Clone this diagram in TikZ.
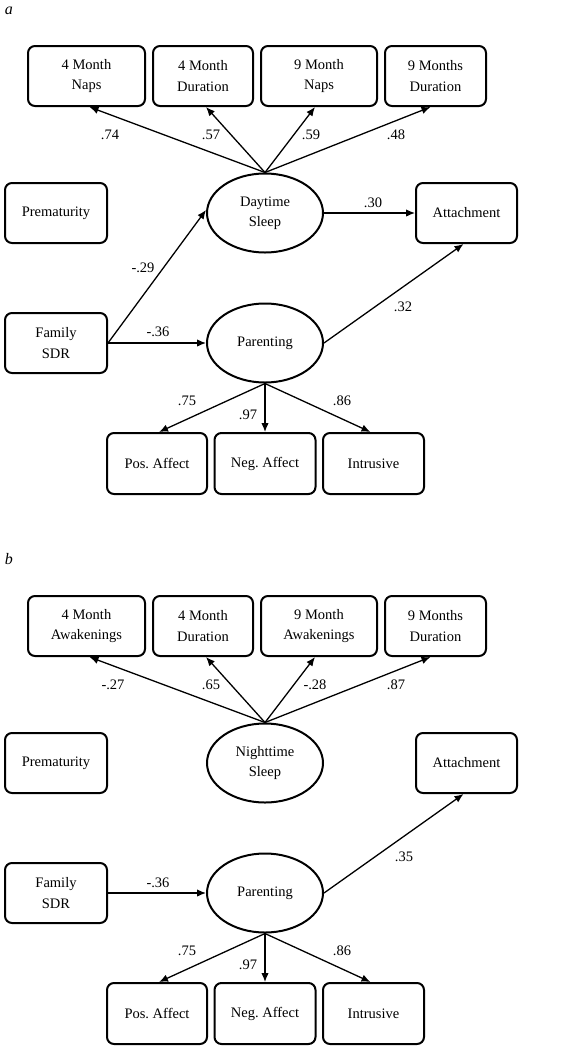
\documentclass[tikz,border=0pt]{standalone}
\usepackage{fontspec}
\setmainfont{Liberation Serif}
\usetikzlibrary{arrows.meta,shapes.geometric}
\frenchspacing
\begin{document}
\begin{tikzpicture}[x=1pt,y=-1pt,
  every node/.style={font=\fontsize{14.5}{20.5}\selectfont},
  obs/.style={draw,rounded corners=7pt,line width=2pt,minimum height=60pt,inner sep=0pt,align=center},
  lat/.style={draw,ellipse,line width=2pt,minimum width=116pt,minimum height=79pt,inner sep=0pt,align=center},
  path/.style={line width=1.3pt,-{Latex[length=9pt,width=7.5pt]}},
  lbl/.style={inner sep=0pt},
  panel/.style={inner sep=0pt,font=\fontsize{16}{18}\selectfont\itshape}]
\useasboundingbox (0,0) rectangle (581,1050);
% ---------------- panel a ----------------
\node[panel] (pa) at (9,11) {a};
\node[obs,minimum width=117pt] (a1) at (86.5,76) {4 Month\\Naps};
\node[obs,minimum width=100pt] (a2) at (203,76) {4 Month\\Duration};
\node[obs,minimum width=116pt] (a3) at (319,76) {9 Month\\Naps};
\node[obs,minimum width=101pt] (a4) at (435.5,76) {9 Months\\Duration};
\node[obs,minimum width=102pt] (aprem) at (56,213) {Prematurity};
\node[obs,minimum width=101pt] (aatt) at (466.5,213) {Attachment};
\node[obs,minimum width=102pt] (afam) at (56,343) {Family\\SDR};
\node[lat] (ads) at (265,213) {Daytime\\Sleep};
\node[lat] (apar) at (265,343) {Parenting};
\node[obs,minimum width=100pt,minimum height=61pt] (apos) at (157,463.5) {Pos. Affect};
\node[obs,minimum width=101pt,minimum height=61pt] (aneg) at (265,463.5) {Neg. Affect};
\node[obs,minimum width=101pt,minimum height=61pt] (aint) at (373.5,463.5) {Intrusive};
\draw[path] (ads.north) -- ([xshift=3pt]a1.south);
\draw[path] (ads.north) -- ([xshift=3pt]a2.south);
\draw[path] (ads.north) -- ([xshift=-4pt]a3.south);
\draw[path] (ads.north) -- ([xshift=-5pt]a4.south);
\draw[path] (ads.east) -- (aatt.west);
\draw[path] (afam.east) -- ([yshift=3pt]ads.west);
\draw[path] (afam.east) -- (apar.west);
\draw[path] (apar.east) -- ([xshift=-3pt]aatt.south);
\draw[path] (apar.south) -- ([xshift=2pt]apos.south|-apos.north);
\draw[path] (apar.south) -- (aneg.north);
\draw[path] (apar.south) -- ([xshift=-3pt]aint.north);
\node[lbl] (la1) at (110,135) {.74};
\node[lbl] (la2) at (211,135) {.57};
\node[lbl] (la3) at (311,135) {.59};
\node[lbl] (la4) at (396,135) {.48};
\node[lbl] (la5) at (373,203) {.30};
\node[lbl] (la6) at (143,268) {-.29};
\node[lbl] (la7) at (158,332) {-.36};
\node[lbl] (la8) at (403,307) {.32};
\node[lbl] (la9) at (187,401) {.75};
\node[lbl] (la10) at (248,415) {.97};
\node[lbl] (la11) at (342,401) {.86};
% ---------------- panel b ----------------
\node[panel] (pb) at (9,559) {b};
\node[obs,minimum width=117pt] (b1) at (86.5,626) {4 Month\\Awakenings};
\node[obs,minimum width=100pt] (b2) at (203,626) {4 Month\\Duration};
\node[obs,minimum width=116pt] (b3) at (319,626) {9 Month\\Awakenings};
\node[obs,minimum width=101pt] (b4) at (435.5,626) {9 Months\\Duration};
\node[obs,minimum width=102pt] (bprem) at (56,763) {Prematurity};
\node[obs,minimum width=101pt] (batt) at (466.5,763) {Attachment};
\node[obs,minimum width=102pt] (bfam) at (56,893) {Family\\SDR};
\node[lat] (bns) at (265,763) {Nighttime\\Sleep};
\node[lat] (bpar) at (265,893) {Parenting};
\node[obs,minimum width=100pt,minimum height=61pt] (bpos) at (157,1013.5) {Pos. Affect};
\node[obs,minimum width=101pt,minimum height=61pt] (bneg) at (265,1013.5) {Neg. Affect};
\node[obs,minimum width=101pt,minimum height=61pt] (bint) at (373.5,1013.5) {Intrusive};
\draw[path] (bns.north) -- ([xshift=3pt]b1.south);
\draw[path] (bns.north) -- ([xshift=3pt]b2.south);
\draw[path] (bns.north) -- ([xshift=-4pt]b3.south);
\draw[path] (bns.north) -- ([xshift=-5pt]b4.south);
\draw[path] (bfam.east) -- (bpar.west);
\draw[path] (bpar.east) -- ([xshift=-3pt]batt.south);
\draw[path] (bpar.south) -- ([xshift=2pt]bpos.south|-bpos.north);
\draw[path] (bpar.south) -- (bneg.north);
\draw[path] (bpar.south) -- ([xshift=-3pt]bint.north);
\node[lbl] (lb1) at (113,685) {-.27};
\node[lbl] (lb2) at (211,685) {.65};
\node[lbl] (lb3) at (315,685) {-.28};
\node[lbl] (lb4) at (396,685) {.87};
\node[lbl] (lb7) at (158,883) {-.36};
\node[lbl] (lb8) at (404,857) {.35};
\node[lbl] (lb9) at (187,951) {.75};
\node[lbl] (lb10) at (248,965) {.97};
\node[lbl] (lb11) at (342,951) {.86};
\end{tikzpicture}
\end{document}
